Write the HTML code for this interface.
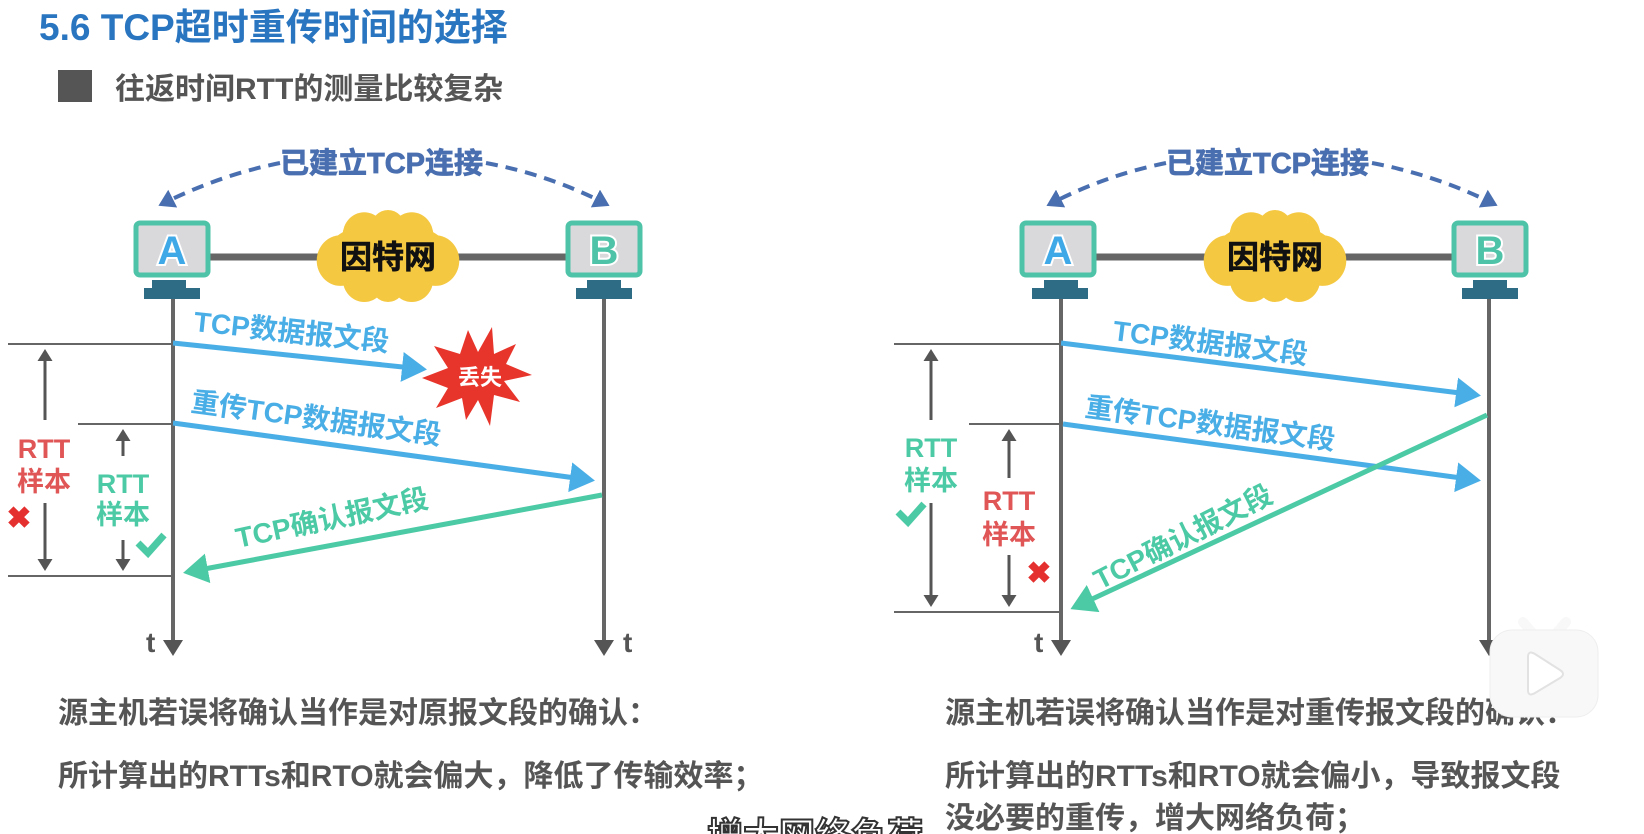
<!DOCTYPE html>
<html><head><meta charset="utf-8"><style>
html,body{margin:0;padding:0;background:#fff;}
svg{display:block;}
text{font-family:"Liberation Sans","Noto Sans CJK SC",sans-serif;font-weight:bold;}
.L{paint-order:stroke;stroke:#fff;stroke-width:4;}
</style></head><body>
<svg width="1644" height="834" viewBox="0 0 1644 834" xmlns="http://www.w3.org/2000/svg">
<defs>
<marker id="mb" markerWidth="6" markerHeight="6" refX="4" refY="3" orient="auto" markerUnits="strokeWidth"><path d="M0,0 L5,3 L0,6 z" fill="#4aaee6"/></marker>
<marker id="mg" markerWidth="6" markerHeight="6" refX="4" refY="3" orient="auto" markerUnits="strokeWidth"><path d="M0,0 L5,3 L0,6 z" fill="#4ccaa5"/></marker>
<marker id="mk" markerWidth="5" markerHeight="5" refX="3" refY="2.5" orient="auto" markerUnits="strokeWidth"><path d="M0,0 L4,2.5 L0,5 z" fill="#555"/></marker>
<marker id="md" markerWidth="5" markerHeight="5" refX="3" refY="2.5" orient="auto" markerUnits="strokeWidth"><path d="M0,0 L4,2.5 L0,5 z" fill="#4a6fb0"/></marker>
<g id="cloud">
<ellipse cx="0" cy="0" rx="58" ry="30" fill="#f5c842"/>
<circle cx="-44" cy="4" r="22" fill="#f5c842"/>
<circle cx="44" cy="4" r="22" fill="#f5c842"/>
<circle cx="-22" cy="-18" r="20" fill="#f5c842"/>
<circle cx="22" cy="-18" r="20" fill="#f5c842"/>
<circle cx="-22" cy="20" r="20" fill="#f5c842"/>
<circle cx="22" cy="20" r="20" fill="#f5c842"/>
<circle cx="0" cy="-24" r="16" fill="#f5c842"/>
<circle cx="0" cy="24" r="16" fill="#f5c842"/>
</g>
</defs>

<text x="39" y="40" font-size="37" fill="#2a75c0">5.6 TCP超时重传时间的选择</text>
<rect x="58" y="70" width="34" height="32" fill="#555"/>
<text x="115" y="99" font-size="30" fill="#555">往返时间RTT的测量比较复杂</text>

<!-- LEFT -->
<g>
<path d="M280,163 Q220,175 162,204" fill="none" stroke="#4a6fb0" stroke-width="4" stroke-dasharray="12,8" marker-end="url(#md)"/>
<path d="M486,163 Q550,175 606,204" fill="none" stroke="#4a6fb0" stroke-width="4" stroke-dasharray="12,8" marker-end="url(#md)"/>
<text x="280" y="173" font-size="29" fill="#4a6fb0" stroke="#4a6fb0" stroke-width="0.8">已建立TCP连接</text>

<line x1="210" y1="257" x2="568" y2="257" stroke="#666" stroke-width="7"/>
<use href="#cloud" transform="translate(388,256) scale(1.08,1.15)"/>
<text x="388" y="268" font-size="32" fill="#111" stroke="#111" stroke-width="0.6" text-anchor="middle">因特网</text>

<rect x="136" y="223" width="72" height="52" rx="4" fill="#d9d9dc" stroke="#4fc3a8" stroke-width="5"/>
<text class="L" x="172" y="264" font-size="40" fill="#3fa9e8" text-anchor="middle">A</text>
<rect x="152" y="280" width="34" height="9" fill="#2e6b85"/>
<rect x="144" y="288" width="56" height="11" fill="#2e6b85"/>
<rect x="568" y="223" width="72" height="52" rx="4" fill="#d9d9dc" stroke="#4fc3a8" stroke-width="5"/>
<text class="L" x="604" y="264" font-size="40" fill="#4fc3a8" text-anchor="middle">B</text>
<rect x="587" y="280" width="34" height="9" fill="#2e6b85"/>
<rect x="576" y="288" width="56" height="11" fill="#2e6b85"/>

<line x1="173" y1="299" x2="173" y2="652" stroke="#666" stroke-width="4" marker-end="url(#mk)"/>
<line x1="604" y1="299" x2="604" y2="652" stroke="#666" stroke-width="4" marker-end="url(#mk)"/>
<text x="146" y="652" font-size="28" fill="#555">t</text>
<text x="623" y="652" font-size="28" fill="#555">t</text>

<line x1="173" y1="343" x2="422" y2="369" stroke="#4aaee6" stroke-width="5" marker-end="url(#mb)"/>
<text transform="translate(193,331) rotate(6)" font-size="28" fill="#4aaee6">TCP数据报文段</text>
<polygon points="532,375 504,381 520,402 494,395 490,426 478,400 466,420 462,398 436,408 448,388 422,378 448,368 434,346 460,354 468,330 478,352 492,327 494,354 516,344 506,364" fill="#e8352b"/>
<text x="480" y="385" font-size="22" fill="#fff" text-anchor="middle">丢失</text>

<line x1="173" y1="423" x2="590" y2="480" stroke="#4aaee6" stroke-width="5" marker-end="url(#mb)"/>
<text transform="translate(190,411) rotate(7.7)" font-size="28" fill="#4aaee6">重传TCP数据报文段</text>

<line x1="602" y1="495" x2="188" y2="572" stroke="#4ccaa5" stroke-width="5" marker-end="url(#mg)"/>
<text transform="translate(238,548) rotate(-12)" font-size="28" fill="#4ccaa5">TCP确认报文段</text>

<line x1="8" y1="344" x2="173" y2="344" stroke="#666" stroke-width="2"/>
<line x1="78" y1="424" x2="173" y2="424" stroke="#666" stroke-width="2"/>
<line x1="8" y1="576" x2="173" y2="576" stroke="#666" stroke-width="2"/>
<line x1="45" y1="420" x2="45" y2="352" stroke="#555" stroke-width="3" marker-end="url(#mk)"/>
<line x1="45" y1="503" x2="45" y2="568" stroke="#555" stroke-width="3" marker-end="url(#mk)"/>
<line x1="123" y1="456" x2="123" y2="432" stroke="#555" stroke-width="3" marker-end="url(#mk)"/>
<line x1="123" y1="540" x2="123" y2="568" stroke="#555" stroke-width="3" marker-end="url(#mk)"/>
<text x="44" y="458" font-size="27" fill="#e05555" text-anchor="middle">RTT</text>
<text x="44" y="491" font-size="27" fill="#e05555" text-anchor="middle">样本</text>
<text x="19" y="528" font-size="30" fill="#e53030" text-anchor="middle">✖</text>
<text x="123" y="493" font-size="27" fill="#4ccaa5" text-anchor="middle">RTT</text>
<text x="123" y="524" font-size="27" fill="#4ccaa5" text-anchor="middle">样本</text>
<path d="M138,543 L148,553 L164,535" fill="none" stroke="#4ccaa5" stroke-width="7"/>

<text x="58" y="723" font-size="30" fill="#555">源主机若误将确认当作是对原报文段的确认：</text>
<text x="58" y="786" font-size="30" fill="#555">所计算出的RTTs和RTO就会偏大，降低了传输效率；</text>
</g>

<!-- RIGHT -->
<g>
<path d="M1166,163 Q1106,175 1050,204" fill="none" stroke="#4a6fb0" stroke-width="4" stroke-dasharray="12,8" marker-end="url(#md)"/>
<path d="M1372,163 Q1436,175 1494,204" fill="none" stroke="#4a6fb0" stroke-width="4" stroke-dasharray="12,8" marker-end="url(#md)"/>
<text x="1166" y="173" font-size="29" fill="#4a6fb0" stroke="#4a6fb0" stroke-width="0.8">已建立TCP连接</text>

<line x1="1096" y1="257" x2="1454" y2="257" stroke="#666" stroke-width="7"/>
<use href="#cloud" transform="translate(1275,256) scale(1.08,1.15)"/>
<text x="1275" y="268" font-size="32" fill="#111" stroke="#111" stroke-width="0.6" text-anchor="middle">因特网</text>

<rect x="1022" y="223" width="72" height="52" rx="4" fill="#d9d9dc" stroke="#4fc3a8" stroke-width="5"/>
<text class="L" x="1058" y="264" font-size="40" fill="#3fa9e8" text-anchor="middle">A</text>
<rect x="1044" y="280" width="34" height="9" fill="#2e6b85"/>
<rect x="1032" y="288" width="56" height="11" fill="#2e6b85"/>
<rect x="1454" y="223" width="72" height="52" rx="4" fill="#d9d9dc" stroke="#4fc3a8" stroke-width="5"/>
<text class="L" x="1490" y="264" font-size="40" fill="#4fc3a8" text-anchor="middle">B</text>
<rect x="1473" y="280" width="34" height="9" fill="#2e6b85"/>
<rect x="1462" y="288" width="56" height="11" fill="#2e6b85"/>

<line x1="1061" y1="299" x2="1061" y2="652" stroke="#666" stroke-width="4" marker-end="url(#mk)"/>
<line x1="1489" y1="299" x2="1489" y2="652" stroke="#666" stroke-width="4" marker-end="url(#mk)"/>
<text x="1034" y="652" font-size="28" fill="#555">t</text>

<line x1="1061" y1="343" x2="1476" y2="395" stroke="#4aaee6" stroke-width="5" marker-end="url(#mb)"/>
<text transform="translate(1112,340) rotate(7.1)" font-size="28" fill="#4aaee6">TCP数据报文段</text>
<line x1="1063" y1="424" x2="1476" y2="480" stroke="#4aaee6" stroke-width="5" marker-end="url(#mb)"/>
<text transform="translate(1084,416) rotate(7.7)" font-size="28" fill="#4aaee6">重传TCP数据报文段</text>
<line x1="1487" y1="415" x2="1075" y2="607" stroke="#4ccaa5" stroke-width="5" marker-end="url(#mg)"/>
<text transform="translate(1100,590) rotate(-27)" font-size="28" fill="#4ccaa5">TCP确认报文段</text>

<line x1="894" y1="344" x2="1061" y2="344" stroke="#666" stroke-width="2"/>
<line x1="969" y1="424" x2="1061" y2="424" stroke="#666" stroke-width="2"/>
<line x1="894" y1="612" x2="1061" y2="612" stroke="#666" stroke-width="2"/>
<line x1="931" y1="420" x2="931" y2="352" stroke="#555" stroke-width="3" marker-end="url(#mk)"/>
<line x1="931" y1="503" x2="931" y2="604" stroke="#555" stroke-width="3" marker-end="url(#mk)"/>
<line x1="1009" y1="478" x2="1009" y2="432" stroke="#555" stroke-width="3" marker-end="url(#mk)"/>
<line x1="1009" y1="555" x2="1009" y2="604" stroke="#555" stroke-width="3" marker-end="url(#mk)"/>
<text x="931" y="457" font-size="27" fill="#4ccaa5" text-anchor="middle">RTT</text>
<text x="931" y="490" font-size="27" fill="#4ccaa5" text-anchor="middle">样本</text>
<path d="M898,512 L908,522 L924,504" fill="none" stroke="#4ccaa5" stroke-width="7"/>
<text x="1009" y="510" font-size="27" fill="#e05555" text-anchor="middle">RTT</text>
<text x="1009" y="544" font-size="27" fill="#e05555" text-anchor="middle">样本</text>
<text x="1039" y="583" font-size="30" fill="#e53030" text-anchor="middle">✖</text>

<text x="945" y="723" font-size="30" fill="#555">源主机若误将确认当作是对重传报文段的确认：</text>
<text x="945" y="786" font-size="30" fill="#555">所计算出的RTTs和RTO就会偏小，导致报文段</text>
<text x="945" y="828" font-size="30" fill="#555">没必要的重传，增大网络负荷；</text>
</g>

<text x="707" y="848" font-size="36" fill="#fff" stroke="#333" stroke-width="2">增大网络负荷</text>

<g>
<line x1="1523" y1="622" x2="1535" y2="636" stroke="#f8f8f8" stroke-width="10" stroke-linecap="round"/>
<line x1="1566" y1="622" x2="1554" y2="636" stroke="#f8f8f8" stroke-width="10" stroke-linecap="round"/>
<rect x="1490" y="630" width="108" height="87" rx="22" fill="#f8f8f8" stroke="#eee" stroke-width="1"/>
<path d="M1528,657 L1528,690 Q1528,697 1535,693 L1560,678 Q1566,674 1560,670 L1535,654 Q1528,650 1528,657 z" fill="#fff" stroke="#e2e2e2" stroke-width="2"/>
</g>
</svg>
</body></html>
